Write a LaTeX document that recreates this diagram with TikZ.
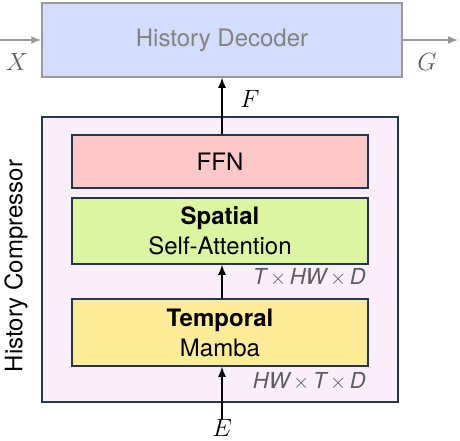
\documentclass[tikz,border=0pt]{standalone}
\usepackage{fontspec}
\setmainfont{TeX Gyre Heros}
\usepackage{xcolor}
\usetikzlibrary{positioning,calc,arrows.meta}
\definecolor{decfill}{HTML}{D3DCFB}
\definecolor{decline}{HTML}{9A9A9A}
\definecolor{cmpfill}{HTML}{F9EEFA}
\definecolor{edge}{HTML}{22384A}
\definecolor{ffnfill}{HTML}{FFC8C8}
\definecolor{spafill}{HTML}{DCF5A0}
\definecolor{tmpfill}{HTML}{FFEC99}
\definecolor{dimtext}{HTML}{5E5E5E}
\newcommand{\blk}[5]{\node [block, fill=#3, minimum height=#4] (#1) at (#2) {#5}}
\newcommand{\mlabel}[3]{\node [mathlbl] (#1) at (#2) {$#3$}}
\newcommand{\by}{\,$\times$\,}

\begin{document}
\begin{tikzpicture}[x=1pt,y=-1pt,
  block/.style={draw=edge, line width=1.5pt, minimum width=296pt, inner sep=0pt,
    align=center, font=\fontsize{24}{30}\selectfont},
  mathlbl/.style={inner sep=0pt, font=\fontsize{32}{32}\selectfont},
  dimlbl/.style={inner sep=0pt, anchor=east, text=dimtext,
    font=\fontsize{22}{22}\selectfont\itshape},
  arr/.style={-{Latex[length=10pt,width=8pt]}, line width=1.4pt},
  grayarr/.style={arr, draw=decline, line width=1.4pt}]
\useasboundingbox (0,0) rectangle (460,440);

% decoder
\node [draw=decline, line width=1.5pt, fill=decfill, minimum width=360pt, minimum height=74pt,
  text=decline!85!black, font=\fontsize{24}{30}\selectfont] (DEC) at (222,40) {History Decoder};
\coordinate (XIN) at (0,40);
\coordinate (GOUT) at (458,40);
\mlabel{X}{17,62}{\color{dimtext}X};
\mlabel{G}{427,62}{\color{dimtext}G};
\draw[grayarr] (XIN) -- (DEC.west);
\draw[grayarr] (DEC.east) -- (GOUT);

% compressor
\node [draw=edge, line width=1.5pt, fill=cmpfill, minimum width=356pt, minimum height=285pt] (CMP) at (220,259.5) {};
\node [rotate=90, inner sep=0pt, font=\fontsize{24}{30}\selectfont] (CMPT) at (16,266) {History Compressor};

\blk{FFN}{220,161.5}{ffnfill}{53pt}{FFN};
\blk{SPA}{220,231}{spafill}{66pt}{\textbf{Spatial}\\Self-Attention};
\blk{TMP}{220,332.5}{tmpfill}{67pt}{\textbf{Temporal}\\Mamba};

\node [dimlbl] (D1) at (366,277) {T\by HW\by D};
\node [dimlbl] (D2) at (366,381) {HW\by T\by D};

\mlabel{F}{250,99}{F};
\mlabel{E}{222,428}{E};

\draw[arr] (FFN.north -| DEC.south) -- (DEC.south);
\draw[arr] (TMP.north -| DEC.south) -- (SPA.south -| DEC.south);
\draw[arr] (E.north) -- (TMP.south -| E.north);

\end{tikzpicture}
\end{document}
